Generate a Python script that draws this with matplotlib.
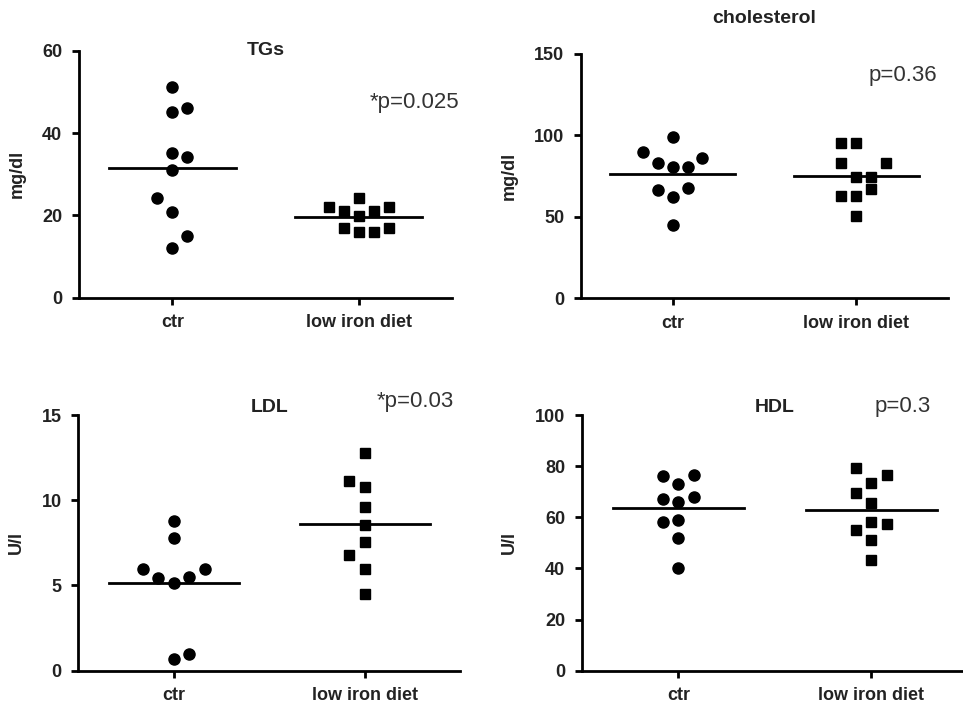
import numpy as np
import matplotlib
matplotlib.use("Agg")
import matplotlib.pyplot as plt

plt.rcParams['font.family'] = ['Liberation Sans', 'DejaVu Sans']

groups = ["ctr", "low iron diet"]

# values, with the column-scatter slot of each point
tg_ctr = [51.2, 45.2, 46.0, 35.2, 34.1, 31.0, 24.1, 20.9, 15.1, 12.0]
tg_ctr_slot = [0, 0, 1, 0, 1, 0, -1, 0, 1, 0]
tg_low = [24.1, 22.1, 21.1, 21.1, 22.1, 19.9, 16.9, 15.9, 15.9, 16.9]
tg_low_slot = [0, -2, -1, 1, 2, 0, -1, 0, 1, 2]

chol_ctr = [98.9, 89.7, 82.9, 80.8, 80.8, 86.0, 66.5, 62.0, 67.6, 45.0]
chol_ctr_slot = [0, -2, -1, 0, 1, 2, -1, 0, 1, 0]
chol_low = [95.2, 95.2, 83.3, 83.3, 74.7, 74.7, 67.0, 62.8, 62.8, 50.6]
chol_low_slot = [-1, 0, -1, 2, 0, 1, 1, -1, 0, 0]

ldl_ctr = [8.78, 7.77, 5.97, 5.42, 5.13, 5.52, 5.97, 0.69, 0.96]
ldl_ctr_slot = [0, 0, -2, -1, 0, 1, 2, 0, 1]
ldl_low = [12.79, 11.15, 10.8, 9.59, 8.55, 7.57, 6.79, 5.97, 4.5]
ldl_low_slot = [0, -1, 0, 0, 0, 0, -1, 0, 0]

hdl_ctr = [76.1, 73.0, 76.5, 67.0, 66.1, 68.0, 58.3, 58.9, 51.8, 40.0]
hdl_ctr_slot = [-1, 0, 1, -1, 0, 1, -1, 0, 0, 0]
hdl_low = [79.2, 76.5, 73.3, 69.4, 65.5, 58.3, 57.4, 55.0, 51.1, 43.3]
hdl_low_slot = [-1, 1, 0, -1, 0, 0, 1, -1, 0, 0]

panels = [
    dict(title="TGs", ylabel="mg/dl", ylim=60, yticks=[0, 20, 40, 60],
         ctr=tg_ctr, ctr_slot=tg_ctr_slot, low=tg_low, low_slot=tg_low_slot,
         p="*p=0.025", pos=[79, 297.7, 452, 50.7], title_y=1.0, p_xy=(0.90, 0.79)),
    dict(title="cholesterol", ylabel="mg/dl", ylim=150, yticks=[0, 50, 100, 150],
         ctr=chol_ctr, ctr_slot=chol_ctr_slot, low=chol_low, low_slot=chol_low_slot,
         p="p=0.36", pos=[581, 298.3, 948, 54], title_y=1.147, p_xy=(0.877, 0.914)),
    dict(title="LDL", ylabel="U/l", ylim=15, yticks=[0, 5, 10, 15],
         ctr=ldl_ctr, ctr_slot=ldl_ctr_slot, low=ldl_low, low_slot=ldl_low_slot,
         p="*p=0.03", pos=[78.3, 670.7, 460.3, 415], title_y=1.031, p_xy=(0.881, 1.051)),
    dict(title="HDL", ylabel="U/l", ylim=100, yticks=[0, 20, 40, 60, 80, 100],
         ctr=hdl_ctr, ctr_slot=hdl_ctr_slot, low=hdl_low, low_slot=hdl_low_slot,
         p="p=0.3", pos=[581.7, 670.7, 968, 415], title_y=1.031, p_xy=(0.83, 1.033)),
]

W, H = 963, 707
fig = plt.figure(figsize=(W / 100, H / 100), dpi=100)
step = 0.081
txt = '#222222'

for pn in panels:
    x0, y0, x1, y1 = pn["pos"]
    ax = fig.add_axes([x0 / W, 1 - y0 / H, (x1 - x0) / W, (y0 - y1) / H])
    for i, (vals, slots, mk, ms) in enumerate([(pn["ctr"], pn["ctr_slot"], 'o', 8),
                                                (pn["low"], pn["low_slot"], 's', 7.5)]):
        xs = i + step * np.array(slots)
        ax.plot(xs, vals, linestyle='none', marker=mk, markersize=ms,
                color='black', clip_on=False)
        m = np.mean(vals)
        ax.plot([i - 0.34, i + 0.34], [m, m], color='black', lw=2)
    ax.set_xlim(-0.5, 1.5)
    ax.set_ylim(0, pn["ylim"])
    ax.set_yticks(pn["yticks"])
    ax.set_xticks([0, 1])
    ax.set_xticklabels(groups, fontsize=13, fontweight='bold', color=txt)
    for lab in ax.get_yticklabels():
        lab.set_fontsize(13)
        lab.set_fontweight('bold')
        lab.set_color(txt)
    ax.spines['top'].set_visible(False)
    ax.spines['right'].set_visible(False)
    for s in ['left', 'bottom']:
        ax.spines[s].set_linewidth(2)
    ax.tick_params(direction='out', length=5, width=2, pad=7)
    ax.set_ylabel(pn["ylabel"], fontsize=13, fontweight='bold', color=txt, labelpad=12)
    ax.text(0.5, pn["title_y"], pn["title"], transform=ax.transAxes, ha='center',
            va='center', fontsize=14, fontweight='bold', color=txt)
    ax.text(pn["p_xy"][0], pn["p_xy"][1], pn["p"], transform=ax.transAxes,
            ha='center', va='center', fontsize=16, color='#333333')

fig.savefig("out.png", dpi=100)
